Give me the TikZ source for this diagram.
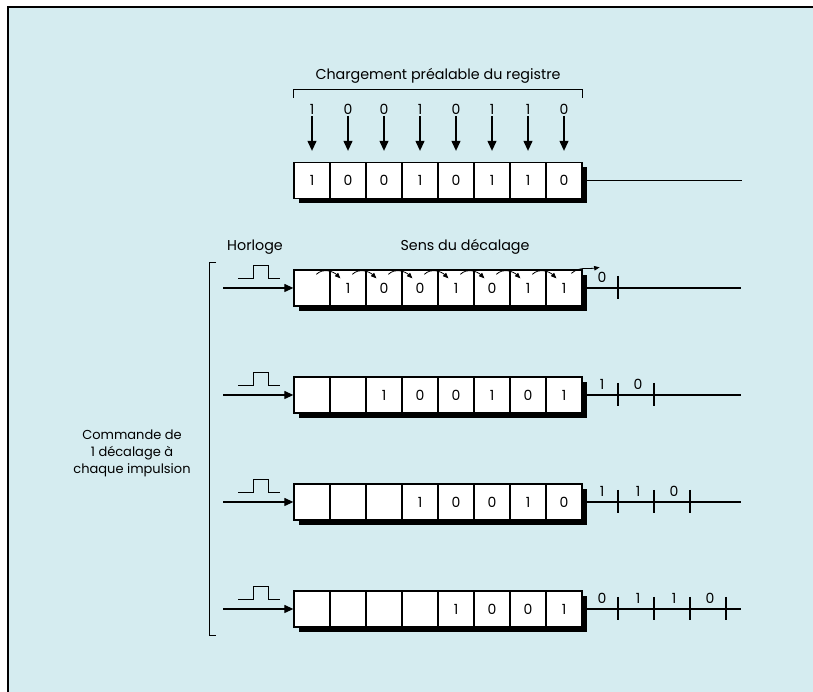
\documentclass[tikz,border=0pt]{standalone}
\usepackage{fontspec}
\setmainfont{Poppins}
\usetikzlibrary{arrows.meta,positioning,calc}
\definecolor{paper}{RGB}{213,236,240}
\tikzset{
  cellbox/.style={rectangle, draw=black, line width=1.3pt, fill=white, inner sep=0pt,
                  minimum width=36pt, minimum height=36pt, font=\fontsize{14}{16}\selectfont},
  bitlabel/.style={inner sep=1pt, font=\fontsize{14}{16}\selectfont},
  txtlabel/.style={align=center, inner sep=1pt, font=\fontsize{14.3}{17}\selectfont},
  loadarr/.style={-{Triangle[width=9pt,length=10pt]}, line width=1.2pt},
  clockarr/.style={-{Triangle[width=8pt,length=9pt]}, line width=1.2pt},
  shiftarr/.style={-{Triangle[width=4.5pt,length=5.5pt]}, line width=0.8pt},
  wire/.style={line width=1.2pt},
  brace/.style={line width=1pt},
}
\def\regbits{{1,0,0,1,0,1,1,0}}

\begin{document}
\begin{tikzpicture}[x=1pt, y=1pt]
    \fill[paper] (8,0) rectangle (813,685);
    \useasboundingbox (0,0) rectangle (813,692);
    \draw[line width=2pt] (8,0) -- (8,685) -- (813,685);
    % preloading of the register
    \fill (299,488.5) rectangle (587,524.5);
    \foreach \b [count=\i] in {1,0,0,1,0,1,1,0} {
      \node[cellbox] (t\i) at (276+36*\i,511.5) {\b};
      \node[bitlabel, above=46pt of t\i] (l\i) {\b};
      \draw[loadarr, shorten >=11pt] (l\i) -- (t\i);
    }
    \draw[brace] (293,594) -- (293,602) -- (582,602) -- (582,594);
    \node[txtlabel] (title) at (438,616) {Chargement préalable du registre};
    \coordinate (tend) at (742,511.5);
    \draw[wire] (t8.east) -- (tend);
    % shifted registers, one per clock pulse
    \node[txtlabel] (clk) at (255,445) {Horloge};
    \node[txtlabel] (dir) at (465,445) {Sens du décalage};
    \node[txtlabel, font=\fontsize{13}{17}\selectfont] (cmd) at (132,239) {Commande de\\1 décalage à\\chaque impulsion};
    \draw[brace] (216,429) -- (209,429) -- (209,56) -- (216,56);
    \foreach \k/\y in {1/404, 2/297, 3/190, 4/83} {
      \fill (299,\y-23) rectangle (587,\y+13);
      \foreach \i in {1,...,8} {
        \ifnum\i>\k
          \pgfmathtruncatemacro\b{\regbits[\i-\k-1]}
        \else
          \def\b{}
        \fi
        \node[cellbox] (r\k-\i) at (276+36*\i,\y) {\b};
      }
      \coordinate (ck\k) at (223,\y);
      \draw[clockarr] (ck\k) -- (r\k-1.west);
      \draw[line width=1pt] (238,\y+9) -- (253,\y+9) -- (253,\y+22) -- (268,\y+22) -- (268,\y+9) -- (280,\y+9);
      \coordinate (oe\k) at (741,\y);
      \draw[wire] (r\k-8.east) -- (oe\k);
      \foreach \j in {1,...,\k} {
        \pgfmathtruncatemacro\o{\regbits[8-\k+\j-1]}
        \draw[wire] (582+36*\j,\y+12) -- (582+36*\j,\y-11);
        \node[bitlabel] (o\k-\j) at (566+36*\j,\y+11) {\o};
      }
    }
    % shift direction arrows
    \foreach \i [evaluate=\i as \n using int(\i+1)] in {1,...,7}
      \draw[shiftarr] ([shift={(23,-5)}]r1-\i.north west) to[out=45,in=135] ([shift={(11,-9)}]r1-\n.north west);
    \draw[shiftarr] ([shift={(26,-4)}]r1-8.north west) to[out=40,in=190] ([shift={(17,2)}]r1-8.north east);
\end{tikzpicture}
\end{document}
